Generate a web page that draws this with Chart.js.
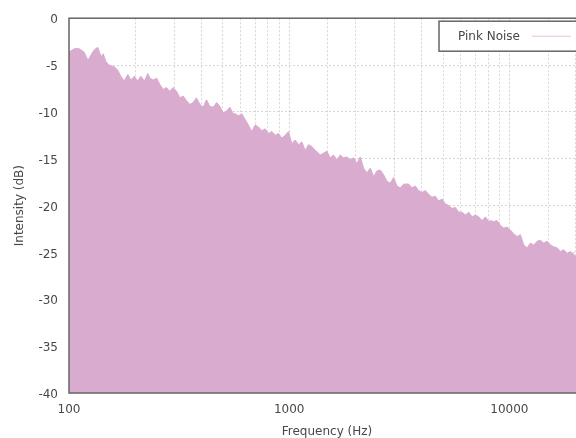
<!DOCTYPE html>
<html>
<head>
<meta charset="utf-8">
<title>Pink Noise</title>
<script src="https://cdn.jsdelivr.net/npm/chart.js@4.4.1/dist/chart.umd.min.js"></script>
<style>
    html, body { margin: 0; padding: 0; background: #fff; overflow: hidden; }
    #wrap { position: relative; width: 600px; height: 438px; }
</style>
</head>
<body>
<div id="wrap"><canvas id="chart"></canvas></div>
<script>
// Frequency (Hz) and intensity (dB)
const frequencies = [
    100, 106, 111, 117, 122, 126, 130, 135, 140, 143, 147, 152, 161, 166, 172, 178, 185, 191, 198, 205, 212, 220, 228,
    233, 241, 250, 259, 268, 277, 287, 297, 308, 319, 330, 342, 354, 366, 379, 393, 407, 421, 436, 452, 468, 484, 502, 519, 538, 557,
    568, 588, 609, 631, 653, 676, 700, 725, 751, 778, 805, 834, 864, 894, 926, 959, 993, 1028, 1065, 1103, 1142, 1182, 1224, 1268, 1313, 1360,
    1383, 1432, 1483, 1536, 1590, 1647, 1705, 1766, 1829, 1894, 1961, 2031, 2103, 2177, 2255, 2335, 2418, 2504, 2592, 2684, 2780, 2878, 2981, 3087, 3196, 3310,
    3368, 3488, 3611, 3740, 3872, 4010, 4152, 4300, 4452, 4610, 4774, 4944, 5119, 5301, 5489, 5684, 5886, 6095, 6311, 6536, 6768, 7008, 7257, 7515, 7782, 8058,
    8197, 8488, 8790, 9102, 9425, 9760, 10106, 10465, 10836, 11221, 11619, 12032, 12459, 12901, 13359, 13833, 14324, 14833, 15359, 15905, 16469, 17054, 17659, 18286, 18935, 19607, 20000, 21000, 22050
];
const intensities = [
    -3.6, -3.25, -3.25, -3.6, -4.5, -3.9, -3.4, -3.1, -4.1, -3.8, -4.6, -5.0, -5.2, -5.5, -6.2, -6.7, -6.0, -6.6, -6.2, -6.7, -6.2, -6.7, -5.9,
    -6.4, -6.6, -6.4, -7.1, -7.6, -7.4, -7.8, -7.4, -7.8, -8.5, -8.3, -8.8, -9.2, -9.0, -8.5, -9.2, -9.5, -8.7, -9.4, -9.5, -9.0, -9.4, -10.1, -9.9, -9.5, -10.2,
    -10.2, -10.4, -10.2, -10.8, -11.4, -12.1, -11.4, -11.6, -12.0, -11.8, -12.3, -12.1, -12.5, -12.3, -12.8, -12.5, -12.1, -13.4, -13.0, -13.5, -13.2, -14.1, -13.5, -13.7, -14.1, -14.4,
    -14.6, -14.4, -14.2, -14.9, -14.6, -15.1, -14.6, -14.9, -14.8, -15.1, -14.9, -15.5, -14.8, -16.0, -16.5, -16.0, -16.9, -16.3, -16.2, -16.7, -17.4, -17.6, -17.0, -17.9, -18.1, -17.7,
    -17.7, -17.7, -18.1, -17.9, -18.4, -18.6, -18.4, -18.8, -19.1, -19.0, -19.5, -19.3, -19.8, -20.0, -20.3, -20.2, -20.7, -20.7, -21.0, -20.7, -21.2, -21.0, -21.2, -21.6, -21.2, -21.7,
    -21.6, -21.7, -21.6, -22.1, -22.4, -22.3, -22.6, -23.0, -23.3, -23.1, -24.2, -24.5, -24.0, -24.2, -23.8, -23.7, -24.0, -23.8, -24.2, -24.4, -24.5, -24.9, -24.7, -25.1, -24.9, -25.2, -25.4, -25.6, -25.8
];
const decadeLabels = [100, 1000, 10000]; // only these get a label on the x axis
const yTicks = [0, -5, -10, -15, -20, -25, -30, -35, -40];

const fillColor = 'rgb(217, 172, 207)';
const textColor = '#484848';
const gridColor = 'rgba(0,0,0,0.16)';
const fontFamily = '"DejaVu Sans", Verdana, sans-serif';

// Box round the plot area
const frameBox = {
    id: 'frameBox',
    afterDatasetsDraw(chart) {
        const a = chart.chartArea;
        const ctx = chart.ctx;
        ctx.save();
        ctx.strokeStyle = '#666';
        ctx.lineWidth = 1.5;
        ctx.strokeRect(a.left, a.top, a.right - a.left, a.bottom - a.top);
        ctx.restore();
    }
};

// Boxed legend in the top right corner, inside the plot
const boxLegend = {
    id: 'boxLegend',
    afterDraw(chart) {
        const ctx = chart.ctx;
        const ds = chart.data.datasets[0];
        const a = chart.chartArea;
        const left = 439, top = a.top + 3, h = 30;
        ctx.save();
        ctx.fillStyle = '#fff';
        ctx.fillRect(left, top, a.right - 8 - left, h);
        ctx.strokeStyle = '#666';
        ctx.lineWidth = 1.5;
        ctx.strokeRect(left, top, a.right - 8 - left, h);
        ctx.fillStyle = textColor;
        ctx.font = '12px ' + fontFamily;
        ctx.textBaseline = 'middle';
        ctx.fillText(ds.label, left + 19, top + h / 2 + 1);
        ctx.strokeStyle = 'rgb(232, 190, 222)';
        ctx.lineWidth = 1;
        ctx.beginPath();
        ctx.moveTo(left + 93, top + h / 2);
        ctx.lineTo(left + 132, top + h / 2);
        ctx.stroke();
        ctx.restore();
    }
};

const points = frequencies.map((f, i) => ({ x: f, y: intensities[i] }));

new Chart(document.getElementById('chart'), {
    type: 'line',
    data: {
        datasets: [{
            label: 'Pink Noise',
            data: points,
            borderColor: fillColor,
            backgroundColor: fillColor,
            borderWidth: 1,
            pointRadius: 0,
            tension: 0,
            fill: 'start'
        }]
    },
    options: {
        responsive: true,
        maintainAspectRatio: false,
        animation: false,
        layout: { padding: { top: 14, right: 15, left: 8, bottom: 0 } },
        plugins: {
            legend: { display: false },
            tooltip: { enabled: false }
        },
        scales: {
            x: {
                type: 'logarithmic',
                min: 100,
                max: 22050,
                grid: { color: gridColor, drawTicks: false },
                border: { display: false, dash: [2, 2] },
                ticks: {
                    autoSkip: false,
                    maxRotation: 0,
                    padding: 10,
                    color: textColor,
                    font: { family: fontFamily, size: 12 },
                    callback: function(value) {
                        return decadeLabels.includes(value) ? String(value) : '';
                    }
                },
                title: {
                    display: true,
                    text: 'Frequency (Hz)',
                    color: textColor,
                    font: { family: fontFamily, size: 12 },
                    padding: { top: 0, bottom: -1 }
                },
                afterFit: function(scale) { scale.height = 45; }
            },
            y: {
                min: -40,
                max: 0,
                grid: { color: gridColor, drawTicks: false },
                border: { display: false, dash: [2, 2] },
                afterBuildTicks: function(scale) {
                    scale.ticks = yTicks.map(v => ({ value: v }));
                },
                ticks: {
                    padding: 11,
                    labelOffset: 2,
                    color: textColor,
                    font: { family: fontFamily, size: 12 }
                },
                title: {
                    display: true,
                    text: 'Intensity (dB)',
                    color: textColor,
                    font: { family: fontFamily, size: 12 },
                    padding: { top: 5, bottom: 0 }
                },
                afterFit: function(scale) { scale.width = 61; }
            }
        }
    },
    plugins: [frameBox, boxLegend]
});
</script>
</body>
</html>
